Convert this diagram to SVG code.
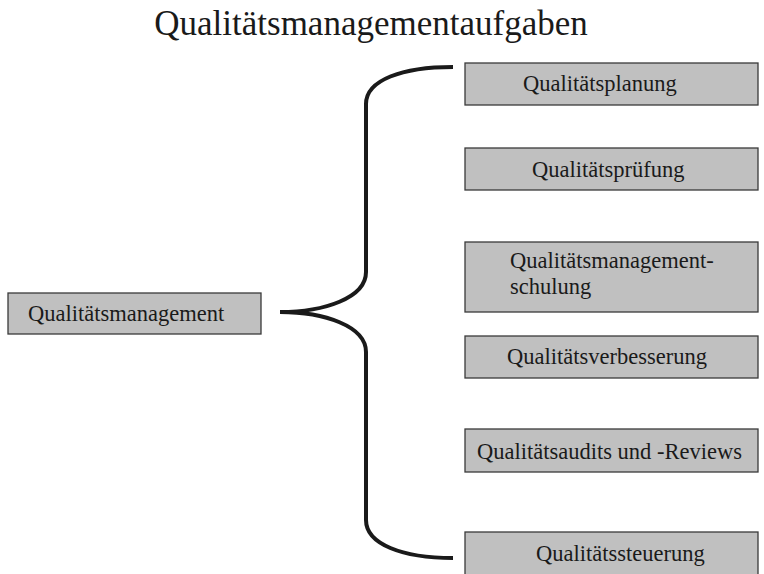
<svg xmlns="http://www.w3.org/2000/svg" width="764" height="574" viewBox="0 0 764 574">
  <style>
    .box { fill: #c0c0c0; stroke: #3a3a3a; stroke-width: 1.3; }
    .lbl { font-family: "Liberation Serif", "Times New Roman", serif; font-size: 22.5px; fill: #1a1a1a; }
    .title { font-family: "Liberation Serif", "Times New Roman", serif; font-size: 35px; fill: #1a1a1a; }
    .brace { fill: none; stroke: #1a1a1a; stroke-width: 4; stroke-linecap: butt; }
  </style>
  <rect width="764" height="574" fill="#ffffff"/>

  <text class="title" x="371" y="35" text-anchor="middle">Qualitätsmanagementaufgaben</text>

  <g id="connectors">
    <path class="brace" d="M453,67 C402,67 366,80 366,104 L366,272 C366,298 324,312 280,312 C324,312 366,326 366,352 L366,520 C366,544 402,558 453,558"/>
  </g>

  <g id="qm">
    <rect class="box" x="8" y="293" width="253" height="41"/>
    <text class="lbl" x="28" y="321">Qualitätsmanagement</text>
  </g>

  <g id="planung">
    <rect class="box" x="465" y="63" width="293" height="42"/>
    <text class="lbl" x="523" y="91">Qualitätsplanung</text>
  </g>

  <g id="pruefung">
    <rect class="box" x="465" y="148" width="293" height="42"/>
    <text class="lbl" x="532" y="177">Qualitätsprüfung</text>
  </g>

  <g id="schulung">
    <rect class="box" x="465" y="242" width="293" height="70"/>
    <text class="lbl" x="510" y="268">Qualitätsmanagement-</text>
    <text class="lbl" x="510" y="294">schulung</text>
  </g>

  <g id="verbesserung">
    <rect class="box" x="465" y="336" width="293" height="42"/>
    <text class="lbl" x="507" y="364">Qualitätsverbesserung</text>
  </g>

  <g id="audits">
    <rect class="box" x="465" y="429" width="293" height="43"/>
    <text class="lbl" x="477" y="459">Qualitätsaudits und -Reviews</text>
  </g>

  <g id="steuerung">
    <rect class="box" x="465" y="532" width="293" height="44"/>
    <text class="lbl" x="536" y="561">Qualitätssteuerung</text>
  </g>
</svg>
